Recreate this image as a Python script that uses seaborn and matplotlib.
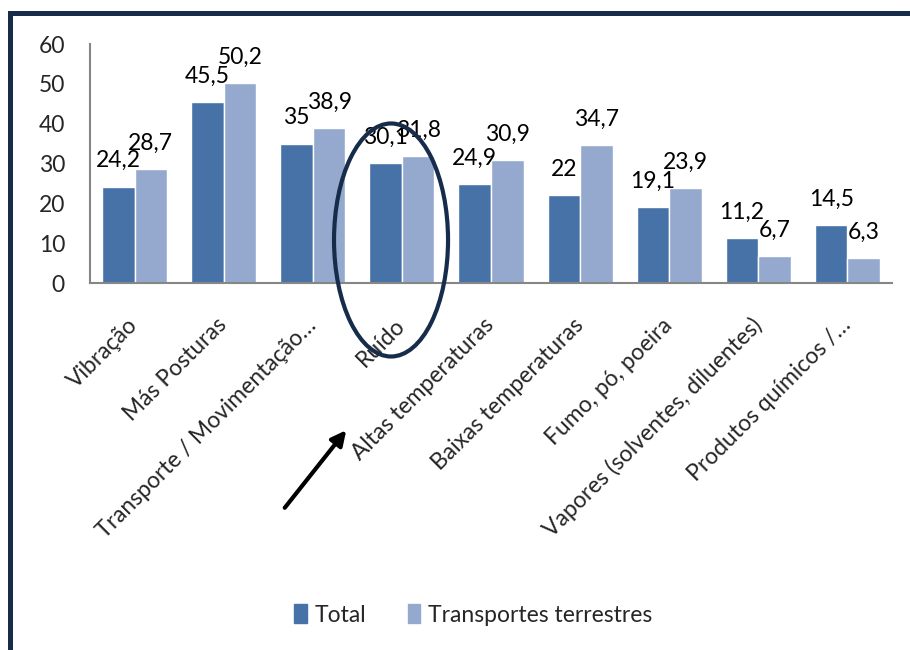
import numpy as np
import pandas as pd
import seaborn as sns
import matplotlib.pyplot as plt
from matplotlib.lines import Line2D
from matplotlib.patches import Ellipse, FancyArrowPatch

# chart data
categories = ['Vibração', 'Más Posturas', 'Transporte / Movimentação…', 'Ruído',
              'Altas temperaturas', 'Baixas temperaturas', 'Fumo, pó, poeira',
              'Vapores (solventes, diluentes)', 'Produtos químicos /…']
total = [24.2, 45.5, 35, 30.1, 24.9, 22, 19.1, 11.2, 14.5]
transportes = [28.7, 50.2, 38.9, 31.8, 30.9, 34.7, 23.9, 6.7, 6.3]
series_names = ['Total', 'Transportes terrestres']
y_ticks = [0, 10, 20, 30, 40, 50, 60]

colors = ['#4672A7', '#95A9CF']
navy = '#172B4A'
fs = 16.5

df = pd.DataFrame({
    'cat': categories * 2,
    'valor': total + transportes,
    'serie': [series_names[0]] * len(categories) + [series_names[1]] * len(categories),
})

sns.set_style('white')
plt.rcParams['font.family'] = ['Lato', 'DejaVu Sans']

fig = plt.figure(figsize=(9.1, 6.5), dpi=100)
ax = fig.add_axes([0.0989, 0.5646, 0.8813, 0.3677])

sns.barplot(data=df, x='cat', y='valor', hue='serie', palette=colors,
            width=0.73, gap=0, saturation=1, ax=ax, legend=False)

# data labels, comma as decimal separator
for cont in ax.containers:
    labels = [f'{b.get_height():g}'.replace('.', ',') for b in cont]
    ax.bar_label(cont, labels=labels, padding=11, fontsize=fs, color='black')

ax.set_ylim(0, 60)
ax.set_xlim(-0.5, len(categories) - 0.5)
ax.set_yticks(y_ticks)
ax.set_yticklabels([str(t) for t in y_ticks], fontsize=fs)
ax.set_xlabel('')
ax.set_ylabel('')
ax.tick_params(axis='y', length=0, pad=18)
ax.tick_params(axis='x', length=0, pad=28)
for lab in ax.get_xticklabels():
    lab.set_rotation(45)
    lab.set_ha('right')
    lab.set_va('center')
    lab.set_rotation_mode('anchor')
    lab.set_fontsize(fs)

for s in ['top', 'right']:
    ax.spines[s].set_visible(False)
for s in ['left', 'bottom']:
    ax.spines[s].set_color('#868686')
    ax.spines[s].set_linewidth(1.5)

# legend
handles = [plt.Rectangle((0, 0), 1, 1, color=c) for c in colors]
fig.legend(handles, series_names, loc='center', bbox_to_anchor=(0.52, 0.054),
           ncol=2, frameon=False, fontsize=fs, handlelength=0.55, handleheight=0.9,
           handletextpad=0.35, columnspacing=1.8)

# frame lines (left and top)
fig.add_artist(Line2D([0.011, 0.011], [0.0, 0.98], transform=fig.transFigure,
                      color=navy, lw=3.6, solid_capstyle='projecting'))
fig.add_artist(Line2D([0.011, 1.0], [0.98, 0.98], transform=fig.transFigure,
                      color=navy, lw=3.6, solid_capstyle='projecting'))

# highlight around "Ruído"
fig.add_artist(Ellipse((0.4297, 0.6308), 0.1253, 0.3585, transform=fig.transFigure,
                       fill=False, edgecolor=navy, lw=3))
fig.add_artist(FancyArrowPatch((0.311, 0.2154), (0.3824, 0.3415), transform=fig.transFigure,
                               arrowstyle='-|>', mutation_scale=22, color='black', lw=3))

fig.savefig('out.png', dpi=100)
